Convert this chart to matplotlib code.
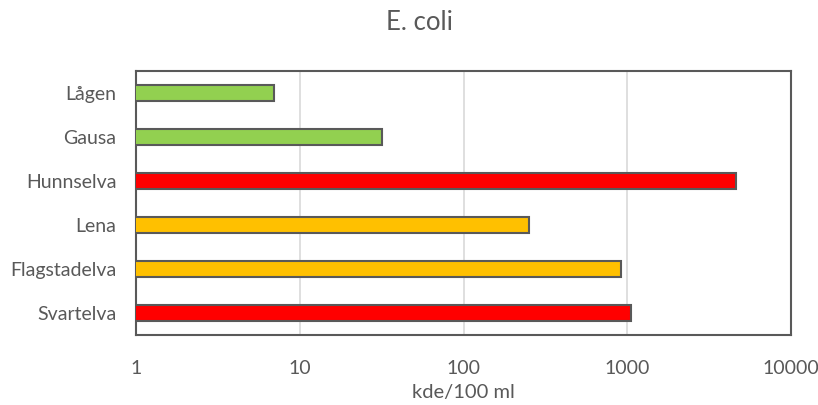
import matplotlib
matplotlib.use("Agg")
import matplotlib.pyplot as plt
from matplotlib.ticker import FixedLocator, FixedFormatter, NullLocator

# E. coli per river (kde/100 ml)
rivers = ["Lågen", "Gausa", "Hunnselva", "Lena", "Flagstadelva", "Svartelva"]
ecoli = [7, 32, 4600, 250, 920, 1050]
colors = ["#92D050", "#92D050", "#FF0000", "#FFC000", "#FFC000", "#FF0000"]
xticks = [1, 10, 100, 1000, 10000]
xtick_labels = ["1", "10", "100", "1000", "10000"]

text_color = "#595959"
plt.rcParams["font.family"] = ["Lato", "DejaVu Sans"]

fig = plt.figure(figsize=(8.18, 4.05), dpi=100)
ax = fig.add_axes([136 / 818, 70 / 405, 655 / 818, 264 / 405])

ax.set_xscale("log", nonpositive="clip")
ypos = list(range(len(rivers)))
ax.barh(ypos, ecoli, height=0.36, color=colors,
        edgecolor="#595959", linewidth=1.5, zorder=3)

ax.set_xlim(1, 10000)
ax.set_ylim(len(rivers) - 0.5, -0.5)
ax.set_yticks(ypos)
ax.set_yticklabels(rivers, fontsize=14, color=text_color)

ax.xaxis.set_major_locator(FixedLocator(xticks))
ax.xaxis.set_major_formatter(FixedFormatter(xtick_labels))
ax.xaxis.set_minor_locator(NullLocator())
ax.tick_params(axis="x", labelsize=14, labelcolor=text_color, length=0, pad=18)
ax.tick_params(axis="y", length=0, pad=14)
ax.grid(axis="x", color="#D9D9D9", linewidth=1.2, zorder=0)

for s in ax.spines.values():
    s.set_color("#595959")
    s.set_linewidth(1.5)

ax.set_xlabel("kde/100 ml", fontsize=14.5, color=text_color, labelpad=5)
fig.text(419 / 818, 1 - 22 / 405, "E. coli", ha="center", va="center",
         fontsize=18.5, color=text_color)

fig.savefig("out.png", dpi=100, facecolor="white")
